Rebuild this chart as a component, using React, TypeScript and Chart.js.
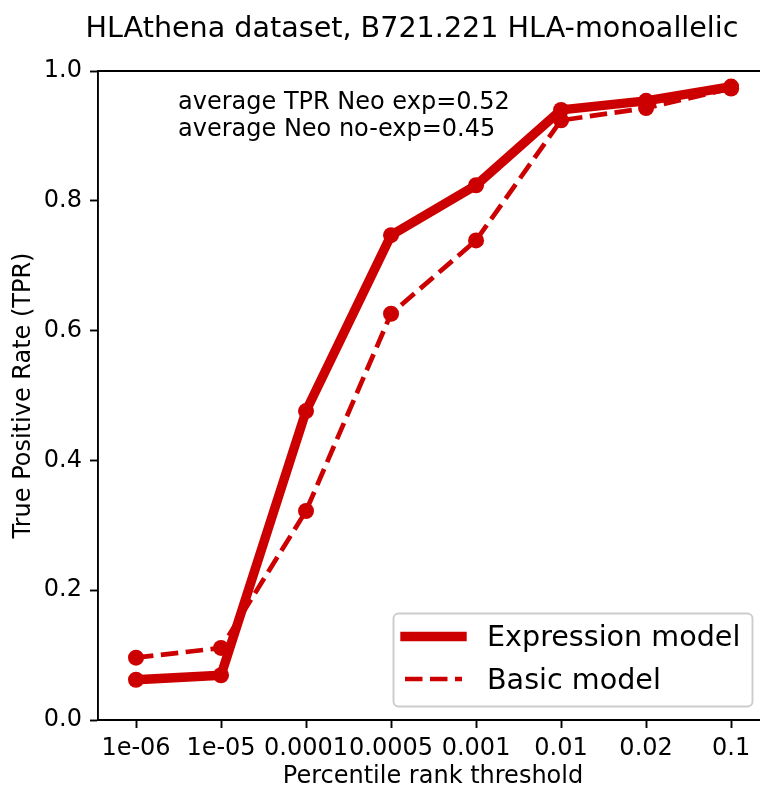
import React, { useEffect, useRef } from "react";
import { Chart, registerables } from "chart.js";

Chart.register(...registerables);

const categories = ["1e-06", "1e-05", "0.0001", "0.0005", "0.001", "0.01", "0.02", "0.1"];
const expressionValues = [0.062, 0.069, 0.476, 0.747, 0.824, 0.940, 0.954, 0.976];
const basicValues = [0.096, 0.111, 0.322, 0.626, 0.739, 0.924, 0.943, 0.973];
const yTickValues = [0, 0.2, 0.4, 0.6, 0.8, 1.0];
const titleText = "HLAthena dataset, B721.221 HLA-monoallelic";
const xLabel = "Percentile rank threshold";
const yLabel = "True Positive Rate (TPR)";
const annotationLines = ["average TPR Neo exp=0.52", "average Neo no-exp=0.45"];

const RED = "#cc0000";
const FONT = "'DejaVu Sans', sans-serif";
const LW = 1.9;
const SMALL = 24;
const LARGE = 28.6;

const decorPlugin = {
  id: "decor",
  afterDraw(chart: any) {
    const ctx = chart.ctx;
    const a = chart.chartArea;
    ctx.save();
    // top spine
    ctx.strokeStyle = "#000";
    ctx.lineWidth = LW;
    ctx.beginPath();
    ctx.moveTo(a.left - LW / 2, a.top);
    ctx.lineTo(chart.width, a.top);
    ctx.stroke();

    ctx.fillStyle = "#000";
    // title
    ctx.font = `${LARGE}px ${FONT}`;
    ctx.textAlign = "center";
    ctx.textBaseline = "alphabetic";
    ctx.fillText(titleText, 412, 37);

    // x label
    ctx.font = `${SMALL}px ${FONT}`;
    ctx.fillText(xLabel, 433, 783);

    // y label
    ctx.save();
    ctx.translate(30, (a.top + a.bottom) / 2);
    ctx.rotate(-Math.PI / 2);
    ctx.fillText(yLabel, 0, 0);
    ctx.restore();

    // annotation
    ctx.textAlign = "left";
    ctx.fillText(annotationLines[0], 178, 109);
    ctx.fillText(annotationLines[1], 178, 136);

    // legend
    const bx = 393.5, by = 613.5, bw = 359, bh = 93;
    ctx.beginPath();
    ctx.roundRect(bx, by, bw, bh, 5);
    ctx.fillStyle = "rgba(255,255,255,0.8)";
    ctx.fill();
    ctx.strokeStyle = "#cccccc";
    ctx.lineWidth = LW;
    ctx.stroke();

    const rows = [645.5, 688.5];
    const lineYs = [636.5, 679];
    chart.data.datasets.forEach((ds: any, i: number) => {
      ctx.save();
      ctx.strokeStyle = ds.borderColor;
      ctx.lineWidth = ds.borderWidth;
      ctx.lineCap = ds.borderCapStyle || "butt";
      ctx.setLineDash(ds.borderDash || []);
      ctx.beginPath();
      ctx.moveTo(405, lineYs[i]);
      ctx.lineTo(462, lineYs[i]);
      ctx.stroke();
      ctx.restore();
      ctx.fillStyle = "#000";
      ctx.font = `${LARGE}px ${FONT}`;
      ctx.textAlign = "left";
      ctx.textBaseline = "alphabetic";
      ctx.fillText(ds.label, 487, rows[i]);
    });
    ctx.restore();
  },
};

export default function App() {
  const ref = useRef<HTMLCanvasElement | null>(null);
  useEffect(() => {
    document.body.style.margin = "0";
    const canvas = ref.current!;
    const chart = new Chart(canvas, {
      type: "line",
      data: {
        datasets: [
          {
            label: "Expression model",
            data: expressionValues.map((v, i) => ({ x: i, y: v })),
            borderColor: RED,
            backgroundColor: RED,
            borderWidth: 9.4,
            borderCapStyle: "square",
            borderJoinStyle: "round",
            pointRadius: 8,
            pointBorderWidth: 0,
            pointBackgroundColor: RED,
            pointHoverRadius: 8,
            fill: false,
            tension: 0,
            clip: false,
          },
          {
            label: "Basic model",
            data: basicValues.map((v, i) => ({ x: i, y: v })),
            borderColor: RED,
            backgroundColor: RED,
            borderWidth: 4.7,
            borderDash: [17.5, 7.5],
            borderCapStyle: "butt",
            borderJoinStyle: "round",
            pointRadius: 8,
            pointBorderWidth: 0,
            pointBackgroundColor: RED,
            pointHoverRadius: 8,
            fill: false,
            tension: 0,
            clip: false,
          },
        ],
      } as any,
      options: {
        responsive: false,
        animation: false,
        events: [],
        layout: { autoPadding: false, padding: { left: 0, right: 0, top: 71, bottom: 0 } },
        plugins: {
          legend: { display: false },
          title: { display: false },
          tooltip: { enabled: false },
        },
        scales: {
          x: {
            type: "linear",
            min: -0.447,
            max: 7.34,
            afterFit: (s: any) => {
              s.height = 69;
              s.paddingLeft = 0;
              s.paddingRight = 0;
            },
            afterBuildTicks: (s: any) => {
              s.ticks = categories.map((_, i) => ({ value: i }));
            },
            ticks: {
              autoSkip: false,
              maxRotation: 0,
              minRotation: 0,
              padding: 6,
              color: "#000",
              font: { family: FONT, size: SMALL },
              callback: (v: any) => categories[Math.round(Number(v))],
            },
            grid: {
              display: true,
              drawOnChartArea: false,
              drawTicks: true,
              tickLength: 8,
              tickColor: "#000",
              tickWidth: LW,
            },
            border: { display: true, color: "#000", width: LW },
          },
          y: {
            type: "linear",
            min: 0,
            max: 1,
            afterFit: (s: any) => {
              s.width = 98;
              s.paddingTop = 0;
              s.paddingBottom = 0;
            },
            afterBuildTicks: (s: any) => {
              s.ticks = yTickValues.map((v) => ({ value: v }));
            },
            ticks: {
              padding: 8,
              color: "#000",
              font: { family: FONT, size: SMALL },
              callback: (v: any) => Number(v).toFixed(1),
            },
            grid: {
              display: true,
              drawOnChartArea: false,
              drawTicks: true,
              tickLength: 8,
              tickColor: "#000",
              tickWidth: LW,
            },
            border: { display: true, color: "#000", width: LW },
          },
        },
      } as any,
      plugins: [decorPlugin],
    });
    return () => chart.destroy();
  }, []);
  return (
    <canvas
      ref={ref}
      width={760}
      height={789}
      style={{ display: "block", width: 760, height: 789 }}
    />
  );
}
